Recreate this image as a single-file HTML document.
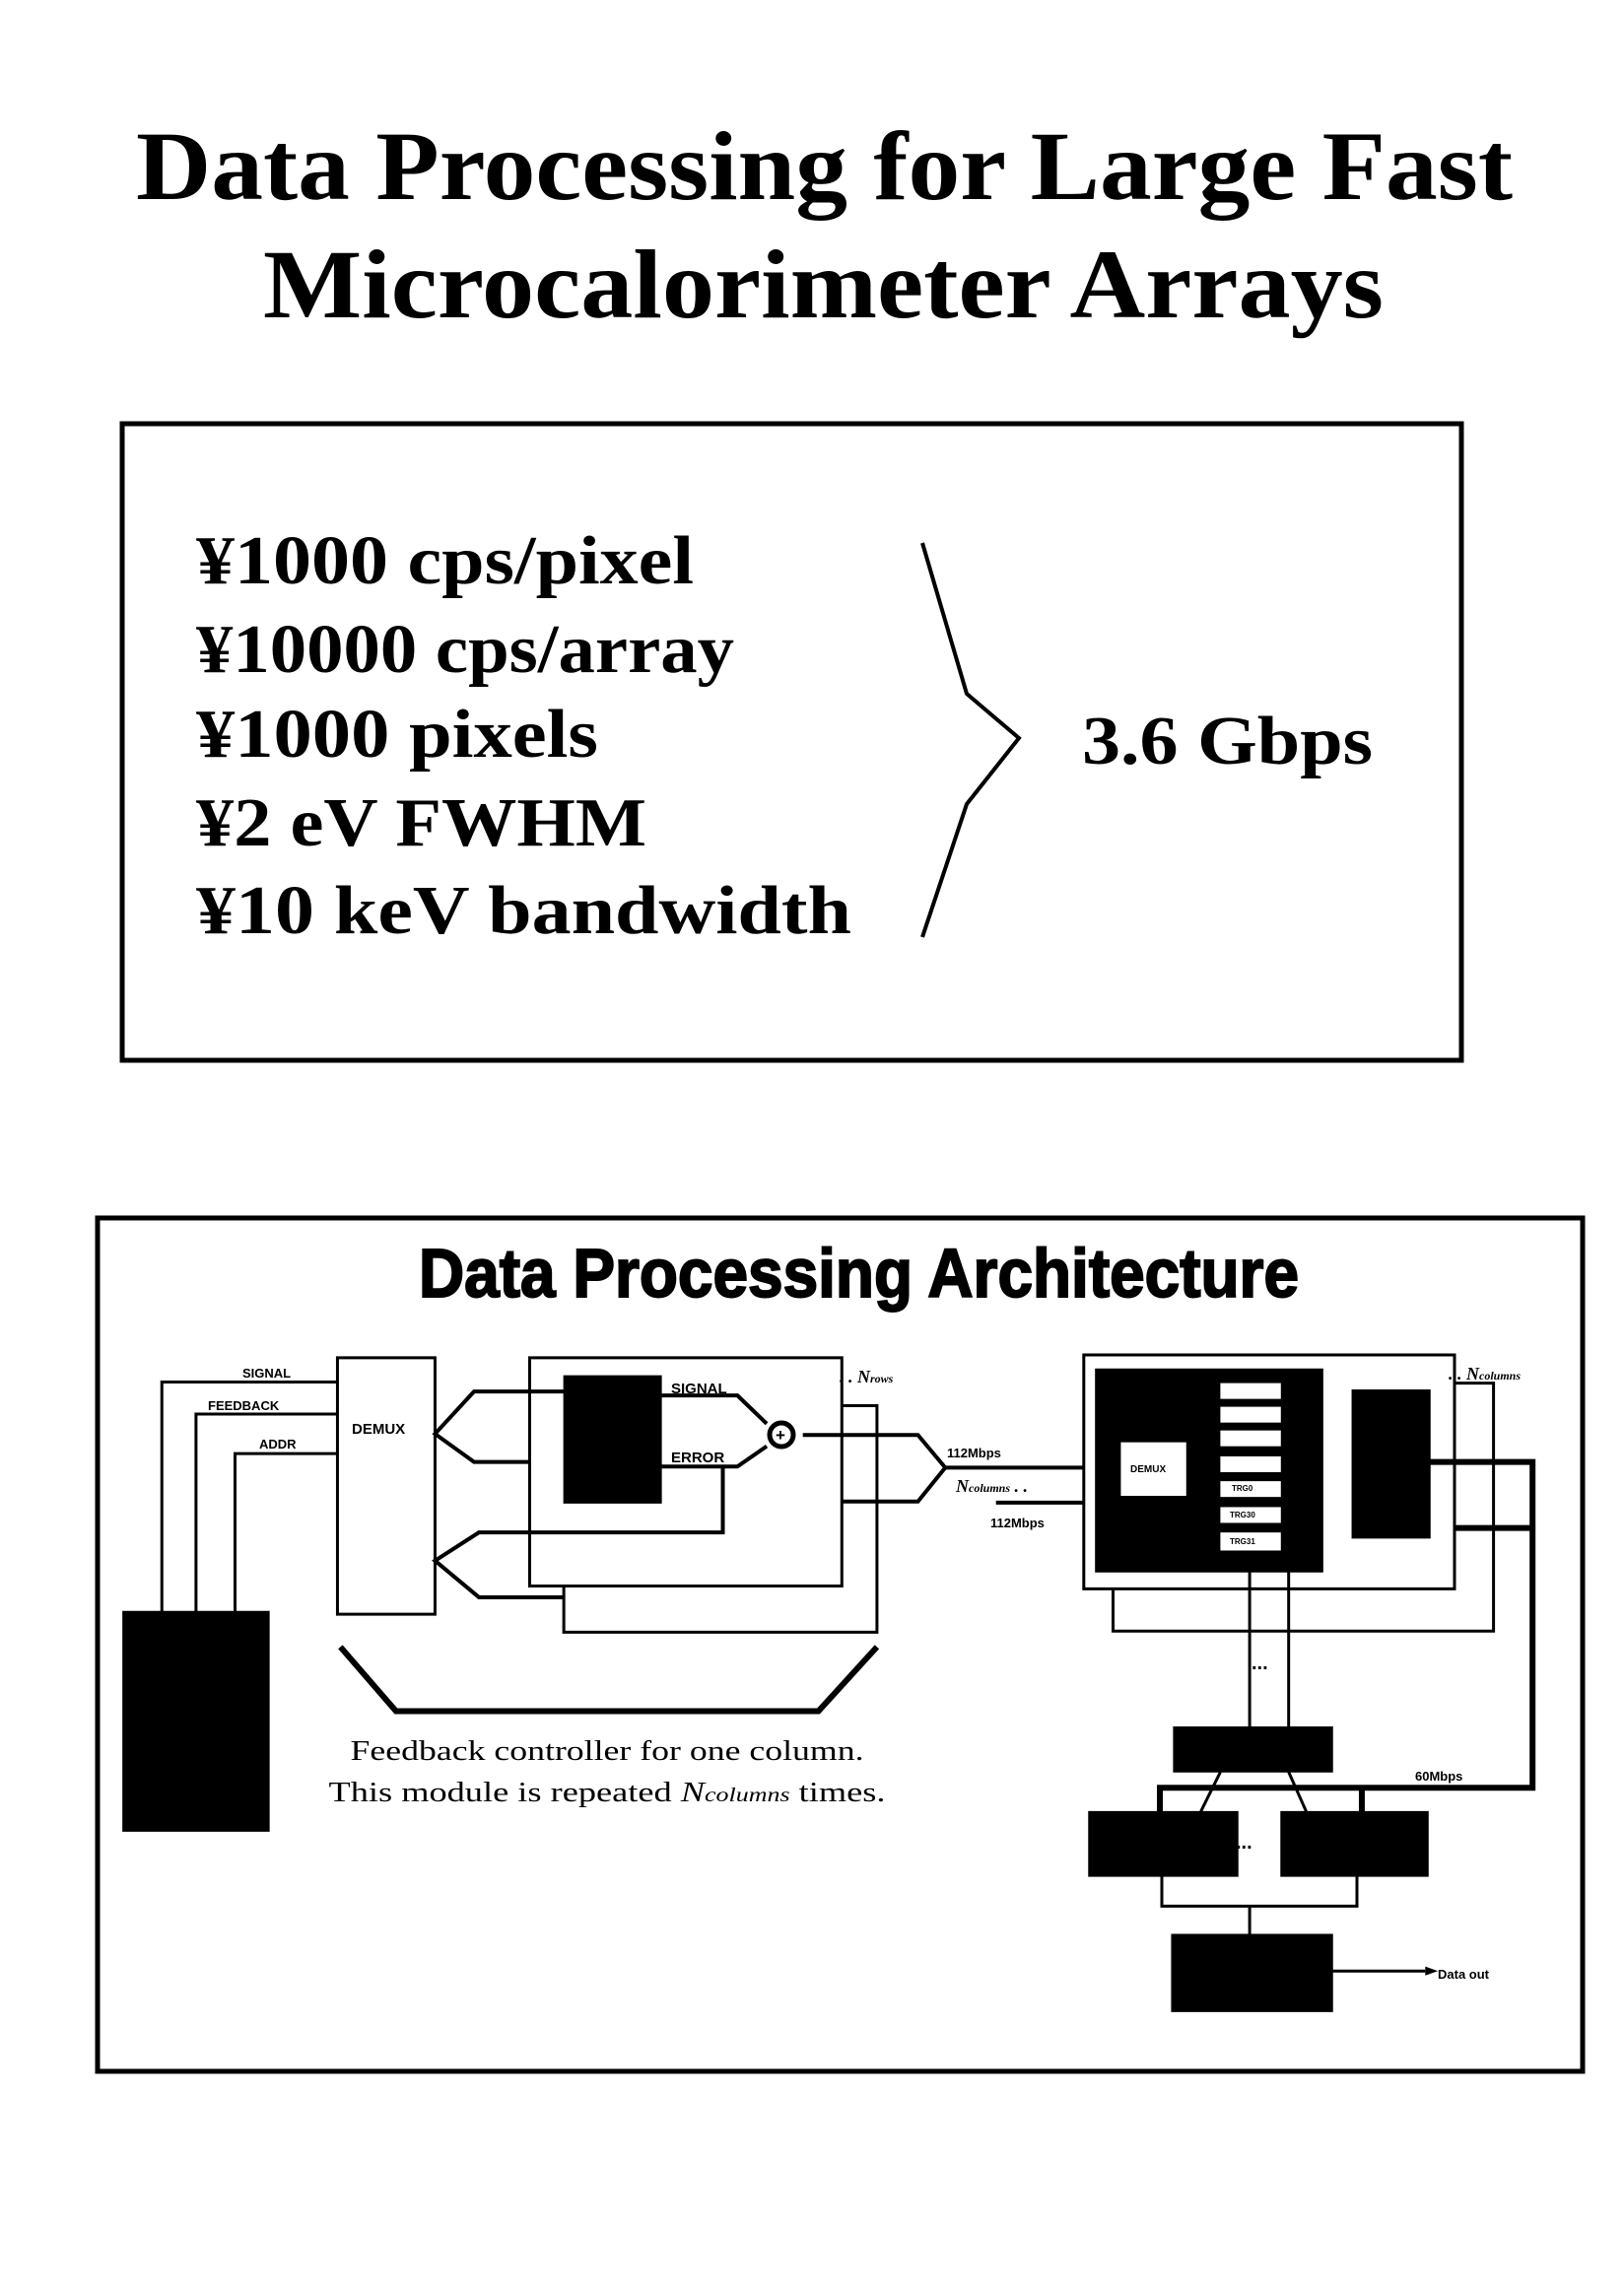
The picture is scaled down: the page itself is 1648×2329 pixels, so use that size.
<!DOCTYPE html>
<html><head><meta charset="utf-8"><style>
html,body{margin:0;padding:0;background:#fff;overflow:hidden;}
svg{display:block;}
.s *{vector-effect:non-scaling-stroke;}
</style></head><body>
<svg width="1648" height="2329" viewBox="0 0 1648 2329" xmlns="http://www.w3.org/2000/svg">
<rect width="1648" height="2329" fill="#fff"/>
<g font-family="Liberation Serif, serif" fill="#000" font-weight="bold">
<text x="138" y="202" font-size="100" textLength="1397" lengthAdjust="spacingAndGlyphs">Data Processing for Large Fast</text>
<text x="267" y="322" font-size="100" textLength="1137" lengthAdjust="spacingAndGlyphs">Microcalorimeter Arrays</text>
</g>
<rect x="124" y="430" width="1359" height="646" fill="none" stroke="#000" stroke-width="5"/>
<g font-family="Liberation Serif, serif" font-weight="bold" font-size="70" fill="#000">
<text x="199" y="592" textLength="505" lengthAdjust="spacingAndGlyphs">¥1000 cps/pixel</text>
<text x="199" y="682" textLength="546" lengthAdjust="spacingAndGlyphs">¥10000 cps/array</text>
<text x="199" y="768" textLength="408" lengthAdjust="spacingAndGlyphs">¥1000 pixels</text>
<text x="199" y="858" textLength="457" lengthAdjust="spacingAndGlyphs">¥2 eV FWHM</text>
<text x="199" y="947" textLength="665" lengthAdjust="spacingAndGlyphs">¥10 keV bandwidth</text>
<text x="1098" y="775" textLength="295" lengthAdjust="spacingAndGlyphs">3.6 Gbps</text>
</g>
<polyline points="936,551 981,704 1034,749 981,816 936,951" fill="none" stroke="#000" stroke-width="4"/>
<rect x="99" y="1236" width="1507" height="866" fill="none" stroke="#000" stroke-width="5"/>
<g class="s" transform="translate(90,1232) scale(0.99,0.572)" stroke="#000" fill="none">
<rect x="35" y="705" width="150" height="390" fill="#000"/>
<g stroke-width="3">
<polyline points="75,705 75,298 255,298"/>
<polyline points="110,705 110,355 255,355"/>
<polyline points="150,705 150,425 255,425"/>
</g>
<rect x="487" y="340" width="321" height="402" fill="#fff" stroke-width="3"/>
<rect x="452" y="255" width="320" height="405" fill="#fff" stroke-width="3"/>
<rect x="255" y="255" width="100" height="455" fill="#fff" stroke-width="3"/>
<rect x="487" y="287" width="100" height="226" fill="#000"/>
<g stroke-width="4">
<polyline points="487,315 395,315 355,390 395,440 452,440"/>
<polyline points="650,450 650,565 400,565 355,615 400,680 487,680"/>
<polyline points="587,322 665,322 695,372"/>
<polyline points="587,448 665,448 695,412"/>
<polyline points="732,392 850,392 878,450 850,510 772,510"/>
<line x1="878" y1="450" x2="1020" y2="450"/>
<line x1="930" y1="512" x2="1020" y2="512"/>
</g>
<rect x="1050" y="300" width="390" height="440" fill="#fff" stroke-width="3"/>
<rect x="1020" y="250" width="380" height="415" fill="#fff" stroke-width="3"/>
<rect x="1032" y="275" width="233" height="360" fill="#000"/>
<rect x="1058" y="405" width="67" height="95" fill="#fff" stroke="none"/>
<g fill="#fff" stroke="none">
<rect x="1160" y="300" width="62" height="28"/><rect x="1160" y="342" width="62" height="28"/><rect x="1160" y="384" width="62" height="28"/><rect x="1160" y="430" width="62" height="28"/><rect x="1160" y="474" width="62" height="28"/><rect x="1160" y="520" width="62" height="28"/><rect x="1160" y="565" width="62" height="32"/>
</g>
<rect x="1295" y="312" width="80" height="263" fill="#000"/>
<g stroke-width="6">
<polyline points="1375,440 1480,440 1480,1018 1098,1018 1098,1060"/>
<line x1="1305" y1="1018" x2="1305" y2="1060"/>
<line x1="1400" y1="557" x2="1480" y2="557"/>
</g>
<g stroke-width="3">
<line x1="1190" y1="635" x2="1190" y2="910"/><line x1="1230" y1="635" x2="1230" y2="910"/>
<polyline points="1160,990 1140,1060"/><polyline points="1230,990 1248,1060"/>
<polyline points="1100,1175 1100,1228 1300,1228 1300,1175"/>
<line x1="1190" y1="1228" x2="1190" y2="1278"/>
<line x1="1275" y1="1343" x2="1370" y2="1343"/>
<polyline points="258,768 315,882 748,882 808,768" stroke-width="6"/>
</g>
<polygon points="1370,1335 1383,1343 1370,1351" fill="#000" stroke="none"/>
<rect x="1112" y="910" width="163" height="80" fill="#000"/>
<rect x="1025" y="1060" width="153" height="115" fill="#000"/>
<rect x="1222" y="1060" width="151" height="115" fill="#000"/>
<rect x="1110" y="1278" width="165" height="137" fill="#000"/>
</g>
<circle cx="793" cy="1456" r="12" fill="#fff" stroke="#000" stroke-width="5"/>
<text x="787" y="1462" font-family="Liberation Sans, sans-serif" font-weight="bold" font-size="17" fill="#000">+</text>
<text x="425" y="1316" font-family="Liberation Sans, sans-serif" font-weight="bold" font-size="70" fill="#000" stroke="#000" stroke-width="2" textLength="893" lengthAdjust="spacingAndGlyphs">Data Processing Architecture</text>
<g font-family="Liberation Sans, sans-serif" font-weight="bold" fill="#000">
<g font-size="13"><text x="246" y="1398">SIGNAL</text><text x="211" y="1431">FEEDBACK</text><text x="263" y="1470">ADDR</text></g>
<text x="357" y="1455" font-size="15">DEMUX</text>
<g font-size="15"><text x="681" y="1414">SIGNAL</text><text x="681" y="1484">ERROR</text></g>
<g font-size="13"><text x="961" y="1479">112Mbps</text><text x="1005" y="1550">112Mbps</text>
<text x="1459" y="2008">Data out</text><text x="1436" y="1807">60Mbps</text></g>
<text x="1147" y="1494" font-size="10">DEMUX</text>
<g font-size="8"><text x="1250" y="1513">TRG0</text><text x="1248" y="1540">TRG30</text><text x="1248" y="1567">TRG31</text></g>
<text x="1270" y="1694" font-size="20">...</text><text x="1254" y="1876" font-size="20">...</text>
</g>
<g font-family="Liberation Serif, serif" font-style="italic" font-weight="bold" font-size="18" fill="#000">
<text x="852" y="1403">. . N<tspan font-size="12">rows</tspan></text>
<text x="970" y="1514">N<tspan font-size="12">columns</tspan> . .</text>
<text x="1470" y="1400">. . N<tspan font-size="12">columns</tspan></text>
</g>
<g font-family="Liberation Serif, serif" font-size="28" fill="#000" text-anchor="middle">
<text x="616" y="1786" textLength="521" lengthAdjust="spacingAndGlyphs">Feedback controller for one column.</text>
<text x="616" y="1828" textLength="565" lengthAdjust="spacingAndGlyphs">This module is repeated <tspan font-style="italic">N<tspan font-size="20">columns</tspan></tspan> times.</text>
</g>
</svg>
</body></html>
